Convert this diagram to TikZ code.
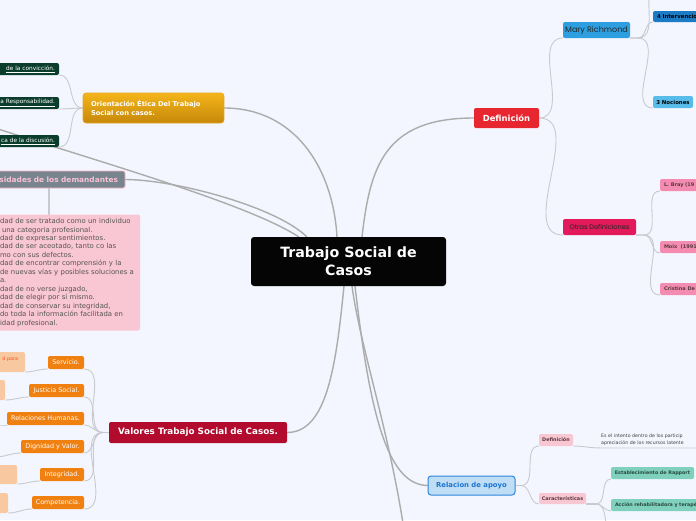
\documentclass[tikz,border=0pt]{standalone}
\usepackage{fontspec}
\setmainfont{DejaVu Sans}
\newfontfamily\handfont{Poppins}
\usetikzlibrary{backgrounds}
\definecolor{bg}{HTML}{F3F6FE}
\definecolor{linelt}{HTML}{C8CACF}
\definecolor{linedk}{HTML}{ACACAC}
\definecolor{central}{HTML}{050505}
\definecolor{defred}{HTML}{E8262F}
\definecolor{maryblue}{HTML}{2D9FE0}
\definecolor{intblue}{HTML}{1B7BC4}
\definecolor{nocblue}{HTML}{58BCEB}
\definecolor{otrasmag}{HTML}{E2195A}
\definecolor{lbpink}{HTML}{F48CB1}
\definecolor{goldtop}{HTML}{F4B41A}
\definecolor{goldbot}{HTML}{C6880A}
\definecolor{goldbd}{HTML}{E6A521}
\definecolor{dkgreen}{HTML}{0B3D2C}
\definecolor{slate}{HTML}{78848E}
\definecolor{pinkbd}{HTML}{F5B5C8}
\definecolor{pinktx}{HTML}{F8C2D4}
\definecolor{pinklist}{HTML}{F9C6D3}
\definecolor{listtx}{HTML}{555555}
\definecolor{valred}{HTML}{B20B2E}
\definecolor{orng}{HTML}{F0800F}
\definecolor{paleor}{HTML}{F8C9A0}
\definecolor{redor}{HTML}{F4511E}
\definecolor{relfill}{HTML}{BFDDF5}
\definecolor{relbd}{HTML}{2B86E0}
\definecolor{reltx}{HTML}{1B75D0}
\definecolor{smpink}{HTML}{F9C7D2}
\definecolor{smpinktx}{HTML}{5A3A40}
\definecolor{grn}{HTML}{7FD0BC}
\definecolor{grntx}{HTML}{2A4A40}
\tikzset{
  conn/.style={draw=linelt, line width=0.9pt},
  mconn/.style={draw=linedk, line width=1.4pt},
  bx/.style={rounded corners=2pt, inner sep=0pt, outer sep=0pt},
  orbox/.style={bx, fill=orng, text=white, minimum height=13pt, font=\fontsize{6.4}{7}\selectfont},
  palebox/.style={bx, fill=paleor, anchor=east, text width=32pt, align=right, inner xsep=4pt, minimum height=20pt, text=redor, font=\fontsize{4.8}{6}\selectfont},
  grbox/.style={bx, fill=dkgreen, anchor=east, text width=70pt, align=right, inner xsep=4pt, minimum height=12pt, text=white, font=\fontsize{5.8}{7}\selectfont},
  smblue/.style={bx, minimum height=12pt, text=black, font=\fontsize{5.4}{7}\selectfont\bfseries},
  smpinkr/.style={bx, fill=lbpink, anchor=west, minimum height=12pt, minimum width=60pt, inner xsep=4pt, align=left, text width=52pt, text=smpinktx, font=\fontsize{5}{6}\selectfont\bfseries},
  subpink/.style={bx, fill=smpink, text=smpinktx, font=\fontsize{4.9}{6}\selectfont\bfseries},
  greenbox/.style={bx, fill=grn, text=grntx, minimum height=12pt, font=\fontsize{4.8}{6}\selectfont\bfseries},
}
\begin{document}
\begin{tikzpicture}[x=1pt,y=-1pt]
\useasboundingbox (0,0) rectangle (696,520);

% ---------- nodes ----------
\node[bx, rounded corners=3pt, fill=central, text=white, minimum width=195pt, minimum height=49pt, align=center, font=\fontsize{14.2}{18}\selectfont\bfseries] (c) at (348.5,261.5) {Trabajo Social de\\Casos};

% Definicion branch
\node[bx, fill=defred, text=white, minimum width=65pt, minimum height=20pt, font=\fontsize{8.4}{10}\selectfont\bfseries] (def) at (506.5,118) {Definición};
\node[bx, fill=maryblue, text=black!85, minimum width=67pt, minimum height=16pt, font=\handfont\fontsize{8}{9}\selectfont] (mary) at (596.5,30) {Mary Richmond};
\node[smblue, fill=intblue, anchor=west, minimum width=60pt, text width=52pt, inner xsep=3pt, align=left, minimum height=11pt] (int4) at (653,16.5) {4 Intervencio};
\node[smblue, fill=nocblue, minimum width=40pt] (noc3) at (673,102) {3 Nociones};
\coordinate (offt) at (660,-20);
\node[bx, fill=otrasmag, text=black!85, minimum width=73pt, minimum height=16pt, font=\handfont\fontsize{6.6}{8}\selectfont] (otras) at (599.5,227) {Otras Definiciones};
\node[smpinkr] (bray) at (660,185) {L. Bray (19};
\node[smpinkr] (moix) at (660,247) {Moix\ \ (1991};
\node[smpinkr] (cris) at (660,289) {Cristina\ De};

% Orientacion branch
\node[bx, rounded corners=3pt, top color=goldtop, bottom color=goldbot, draw=goldbd, line width=0.6pt, text=white, minimum width=141pt, minimum height=30pt, text width=125pt, align=left, font=\fontsize{6.7}{9.3}\selectfont\bfseries] (ori) at (153.5,108) {Orientación Ética Del Trabajo\\Social con casos.};
\node[grbox] (g1) at (59,69) {\underline{de la convicción.}};
\node[grbox] (g2) at (59,103) {\underline{a Responsabilidad.}};
\node[grbox] (g3) at (59,141) {\underline{ca de la discusión.}};

% Necesidades branch
\coordinate (offl) at (-5,128);
\node[bx, fill=slate, draw=pinkbd, line width=0.8pt, anchor=east, text width=125pt, align=right, inner xsep=7pt, minimum height=17pt, text=pinktx, font=\fontsize{7.4}{9}\selectfont\bfseries] (nec) at (125,179.5) {sidades de los demandantes};
\node[bx, fill=pinklist, anchor=north west, text width=136pt, inner xsep=4pt, inner ysep=3pt, minimum height=116pt, align=left, text=listtx, font=\fontsize{6.9}{8.47}\selectfont] (needs) at (-4,214.5) {dad de ser tratado como un individuo\\%
\hspace*{2pt}una categoria profesional.\\%
dad de expresar sentimientos.\\%
dad de ser aceotado, tanto co las\\%
mo con sus defectos.\\%
dad de encontrar comprensión y la\\%
de nuevas vías y posibles soluciones a\\%
a.\\%
dad de no verse juzgado,\\%
dad de elegir por sí mismo.\\%
dad de conservar su integridad,\\%
do toda la información facilitada en\\%
idad profesional.};

% Valores branch
\node[bx, fill=valred, text=white, minimum width=178pt, minimum height=21pt, font=\fontsize{8.8}{10}\selectfont\bfseries] (val) at (198,432.5) {Valores Trabajo Social de Casos.};
\node[orbox, minimum width=36pt] (s1) at (66,362.5) {Servicio.};
\node[orbox, minimum width=55pt] (s2) at (56.5,390.5) {Justicia Social.};
\node[orbox, minimum width=77pt] (s3) at (45.5,418.5) {Relaciones Humanas.};
\node[orbox, minimum width=63pt] (s4) at (52.5,446.5) {Dignidad y Valor.};
\node[orbox, minimum width=44pt] (s5) at (62,474.5) {Integridad.};
\node[orbox, minimum width=52pt] (s6) at (58,502.5) {Competencia.};
\node[palebox, inner xsep=7pt, text width=26pt] (p1) at (25,362) {d para\\\mbox{}};
\node[palebox] (p2) at (5,390) {};
\coordinate (p3) at (-5,425);
\coordinate (p4) at (-5,457);
\node[palebox, minimum height=19pt] (p5) at (17,474.5) {};
\node[palebox] (p6) at (8,503) {};

% Relacion de apoyo branch
\coordinate (offb) at (404,530);
\node[bx, rounded corners=3pt, fill=relfill, draw=relbd, line width=1pt, text=reltx, minimum width=87pt, minimum height=19pt, font=\fontsize{6.85}{8}\selectfont\bfseries] (rel) at (471.5,485.5) {Relacion de apoyo};
\node[subpink, minimum width=34pt, minimum height=12pt] (rdef) at (556,440) {Definición};
\node[subpink, minimum width=47pt, minimum height=11pt] (car) at (562.5,498.5) {Características};
\node[anchor=north west, inner xsep=1pt, inner ysep=2pt, text width=110pt, align=left, text=black!75, font=\fontsize{4.7}{7}\selectfont] (rtext) at (600,432) {Es el intento dentro de los particip\\apreciación de los recursos latente};
\node[greenbox, minimum width=83pt] (gr1) at (652.5,473) {Establecimiento de Rapport};
\node[greenbox, anchor=west, text width=90pt, inner xsep=4pt, align=left] (gr2) at (611,505) {Acción rehabilitadora y terapé};
\coordinate (offg) at (615,535);

% ---------- connectors ----------
\begin{scope}[on background layer]
\fill[bg] (0,0) rectangle (696,520);
\draw[mconn] (ori.east) .. controls +(70,0) and +(-4,-70) .. ([xshift=86pt]c.north west);
\draw[mconn] (nec.east) .. controls +(50,0) and +(-30,-30) .. ([xshift=56pt]c.north west);
\draw[mconn] (offl) .. controls (110,165) and (250,205) .. ([xshift=48pt]c.north west);
\draw[mconn] (def.west) .. controls +(-90,0) and +(8,-70) .. ([xshift=111pt]c.north west);
\draw[mconn] ([xshift=93pt]c.south west) .. controls +(-8,80) and +(40,0) .. (val.east);
\draw[mconn] ([xshift=101pt]c.south west) .. controls +(8,60) and +(-15,-100) .. (offb);
\draw[mconn] ([xshift=104pt]c.south west) .. controls +(15,130) and +(-40,0) .. (rel.west);

\draw[conn] (def.east) to[out=0,in=180] (mary.south west);
\draw[conn] (def.east) to[out=0,in=180] (otras.south west);
\draw[conn] (mary.south east) -- ++(8,0) to[out=0,in=180] (offt);
\draw[conn] (mary.south east) -- ++(8,0) to[out=0,in=180] (int4.south west);
\draw[conn] (mary.south east) -- ++(8,0) to[out=0,in=180] (noc3.south west);
\draw[conn] (otras.south east) -- ++(8,0) to[out=0,in=180] (bray.south west);
\draw[conn] (otras.south east) -- ++(8,0) to[out=0,in=180] (moix.south west);
\draw[conn] (otras.south east) -- ++(8,0) to[out=0,in=180] (cris.south west);

\draw[conn] (ori.west) to[out=180,in=0] (g1.south east);
\draw[conn] (ori.west) to[out=180,in=0] (g2.south east);
\draw[conn] (ori.west) to[out=180,in=0] (g3.south east);

\draw[conn, line width=1.2pt] ([xshift=-76pt]nec.south east) -- ([xshift=53pt]needs.north west);

\foreach \s in {s1,s2,s3,s4,s5,s6}{
  \draw[conn] (val.west) -- ++(-6,0) to[out=180,in=0] (\s.south east);
}
\draw[conn] (s1.south west) to[out=180,in=0] (p1.south east);
\draw[conn] (s2.south west) to[out=180,in=0] (p2.south east);
\draw[conn] (s3.south west) to[out=180,in=0] (p3);
\draw[conn] (s4.south west) to[out=180,in=0] (p4);
\draw[conn] (s5.south west) to[out=180,in=0] (p5.south east);
\draw[conn] (s6.south west) to[out=180,in=0] (p6.south east);

\draw[conn] (rel.east) -- ++(6,0) to[out=0,in=180] (rdef.south west);
\draw[conn] (rel.east) -- ++(6,0) to[out=0,in=180] (car.south west);
\draw[conn] (rdef.south east) to[out=0,in=180] (rtext.south west) -- (rtext.south east);
\draw[conn, line width=1.6pt] (car.south east) -- ++(10,0);
\draw[conn] (car.south east) -- ++(10,0) to[out=0,in=180] (gr1.south west);
\draw[conn] (car.south east) -- ++(10,0) to[out=0,in=180] (gr2.south west);
\draw[conn] (car.south east) -- ++(10,0) to[out=0,in=180] (offg);
\end{scope}
\end{tikzpicture}
\end{document}
